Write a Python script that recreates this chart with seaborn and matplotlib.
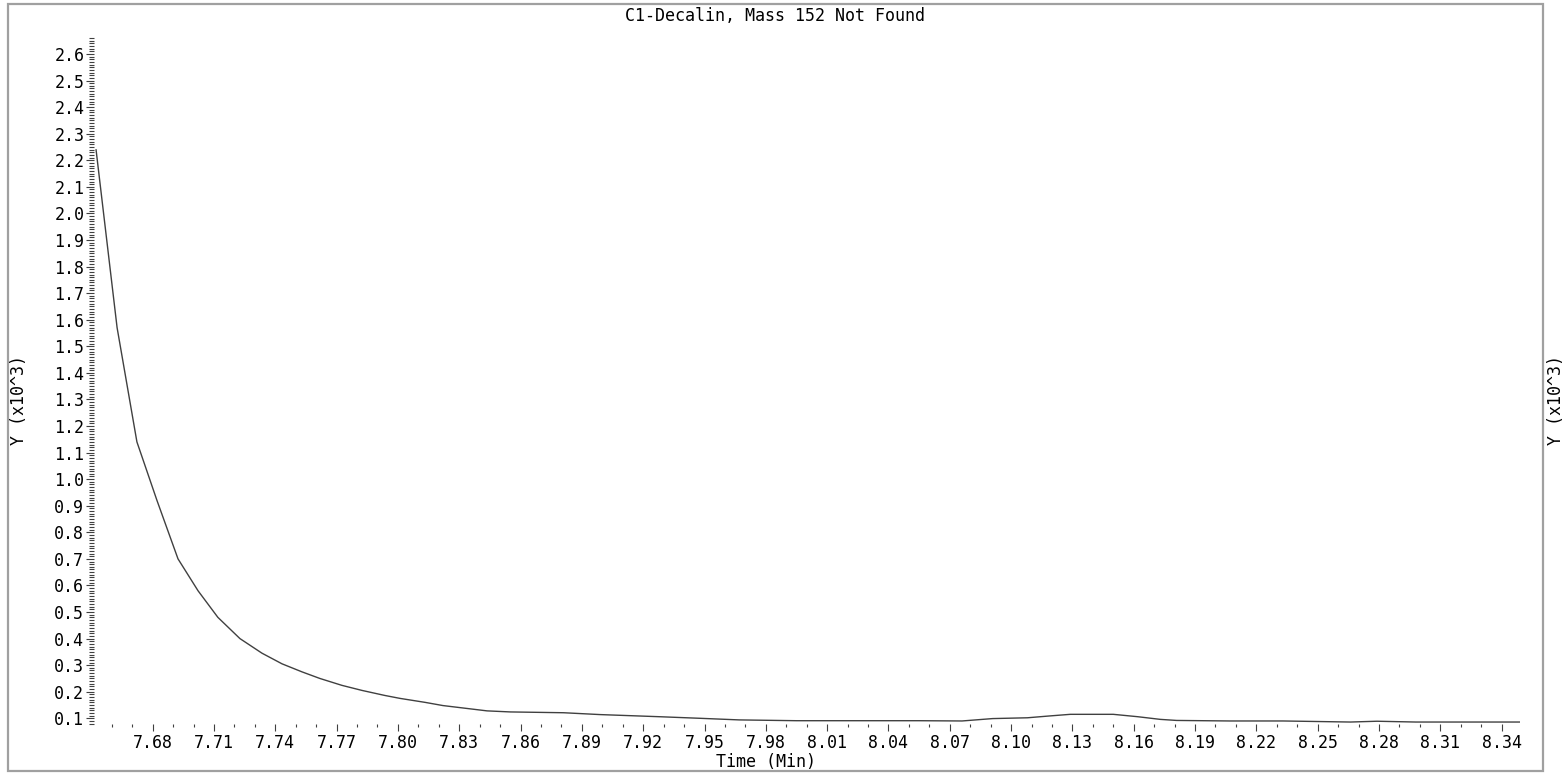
import matplotlib
matplotlib.use("Agg")
import matplotlib.pyplot as plt
import matplotlib.patches as patches
from matplotlib.ticker import MultipleLocator, FormatStrFormatter
import pandas as pd
import seaborn as sns

# chromatogram trace (time in minutes, intensity in thousands)
time_min = [7.6523, 7.6626, 7.6723, 7.6821, 7.6924, 7.7022, 7.7119, 7.7227,
            7.7335, 7.7433, 7.7530, 7.7618, 7.7726, 7.7824, 7.7936, 7.8010,
            7.8133, 7.8220, 7.8436, 7.8550, 7.8810, 7.8990, 7.9280, 7.9480,
            7.9670, 7.9950, 8.0340, 8.0550, 8.0760, 8.0910, 8.1080, 8.1190,
            8.1290, 8.1500, 8.1620, 8.1730, 8.1810, 8.2070, 8.2330, 8.2660,
            8.2790, 8.2980, 8.3210, 8.3490]
intensity = [2.24, 1.57, 1.14, 0.92, 0.70, 0.58, 0.48, 0.40,
             0.345, 0.305, 0.275, 0.25, 0.224, 0.205, 0.186, 0.175,
             0.160, 0.148, 0.128, 0.124, 0.121, 0.114, 0.106, 0.100,
             0.094, 0.091, 0.091, 0.091, 0.090, 0.099, 0.102, 0.109,
             0.115, 0.115, 0.106, 0.096, 0.092, 0.090, 0.090, 0.086,
             0.089, 0.086, 0.086, 0.086]

title = "C1-Decalin, Mass 152 Not Found"
x_label = "Time (Min)"
y_label = "Y (x10^3)"

df = pd.DataFrame({"Time": time_min, "Y": intensity})

sns.set_theme(style="white")
plt.rcParams["font.family"] = ["DejaVu Sans Mono"]
plt.rcParams["font.size"] = 12
plt.rcParams["text.color"] = "black"
plt.rcParams["xtick.color"] = "black"
plt.rcParams["ytick.color"] = "black"

W, H = 1562, 775
fig = plt.figure(figsize=(W / 100, H / 100), dpi=100)
ax = fig.add_axes([94 / W, (H - 724) / H, (1520 - 94) / W, (724 - 38) / H])

sns.lineplot(data=df, x="Time", y="Y", ax=ax, color="#404040", linewidth=1.0,
             estimator=None, sort=False)

ax.set_xlim(7.6513, 8.349)
ax.set_ylim(0.0786, 2.66)
for s in ax.spines.values():
    s.set_visible(False)

ax.xaxis.set_major_locator(MultipleLocator(0.03))
ax.xaxis.set_minor_locator(MultipleLocator(0.01))
ax.xaxis.set_major_formatter(FormatStrFormatter("%.2f"))
ax.yaxis.set_major_locator(MultipleLocator(0.1))
ax.yaxis.set_minor_locator(MultipleLocator(0.01))
ax.yaxis.set_major_formatter(FormatStrFormatter("%.1f"))

ax.tick_params(axis="x", which="major", direction="out", length=5, width=0.8,
               color="#404040", labelsize=12, pad=2, bottom=True)
ax.tick_params(axis="x", which="minor", direction="out", length=2.5, width=0.8,
               color="#404040", bottom=True)
ax.tick_params(axis="y", which="major", direction="out", length=6, width=0.8,
               color="#404040", labelsize=12, pad=1, left=True)
ax.tick_params(axis="y", which="minor", direction="out", length=3.5, width=0.8,
               color="#404040", left=True)
ax.set_xlabel("")
ax.set_ylabel("")
ax.grid(False)

# outer frame and labels
fig.patches.append(patches.Rectangle((8 / W, (H - 771) / H), (1543 - 8) / W, (771 - 4) / H,
                                     transform=fig.transFigure, fill=False,
                                     edgecolor="#a0a0a0", linewidth=1.6))
fig.text(775 / W, (H - 16) / H, title, ha="center", va="center", fontsize=12)
fig.text(766 / W, (H - 762) / H, x_label, ha="center", va="center", fontsize=12)
fig.text(19 / W, (H - 400) / H, y_label, rotation=90, ha="center", va="center", fontsize=12)
fig.text(1556 / W, (H - 400) / H, y_label, rotation=90, ha="center", va="center", fontsize=12)

fig.savefig("out.png", dpi=100)
